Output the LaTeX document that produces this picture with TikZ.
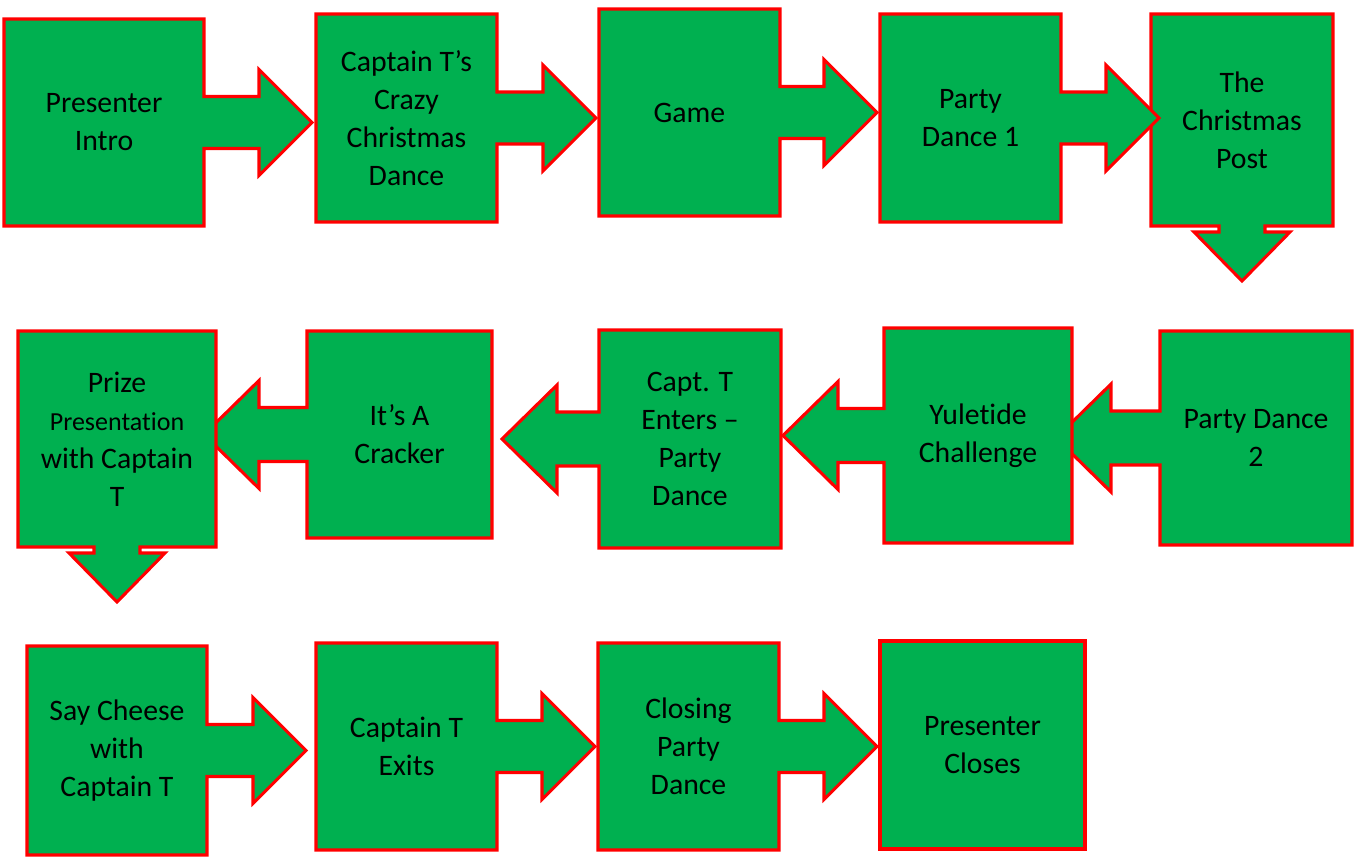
\documentclass[tikz,border=0pt]{standalone}
\usepackage{fontspec}
\setmainfont{Carlito}[Ligatures=NoCommon]
\usepackage{tikz}
\usetikzlibrary{calc,backgrounds}
\definecolor{boxgreen}{HTML}{00B050}
\definecolor{boxred}{HTML}{FF0000}
\tikzset{
  callout/.style={draw=boxred,fill=boxgreen,line width=2.3pt,line join=miter},
  sz/.style 2 args={minimum width=#1*0.75pt,minimum height=#2*0.75pt}
}
% box with a block arrow: right, left, down
\newcommand{\callright}[3]{%
  \coordinate (tip) at ($(#1.east -| #2.west)+(#3,0)$);
  \draw[callout] (#1.north west) -- (#1.north east) -- ($(#1.east)+(0,-26)$)
    -- ($(tip)+(-53,-26)$) -- ($(tip)+(-53,-53)$) -- (tip) -- ($(tip)+(-53,53)$)
    -- ($(tip)+(-53,26)$) -- ($(#1.east)+(0,26)$) -- (#1.south east)
    -- (#1.south west) -- cycle;}
\newcommand{\callleft}[3]{%
  \coordinate (tip) at ($(#1.west -| #2.east)+(#3,0)$);
  \draw[callout] (#1.north east) -- (#1.north west) -- ($(#1.west)+(0,-27)$)
    -- ($(tip)+(55,-27)$) -- ($(tip)+(55,-54)$) -- (tip) -- ($(tip)+(55,54)$)
    -- ($(tip)+(55,27)$) -- ($(#1.west)+(0,27)$) -- (#1.south west)
    -- (#1.south east) -- cycle;}
\newcommand{\calldown}[1]{%
  \draw[callout] (#1.north west) -- (#1.north east) -- (#1.south east)
    -- ($(#1.south)+(23,0)$) -- ($(#1.south)+(23,6)$) -- ($(#1.south)+(48,6)$)
    -- ($(#1.south)+(0,55)$) -- ($(#1.south)+(-48,6)$) -- ($(#1.south)+(-23,6)$)
    -- ($(#1.south)+(-23,0)$) -- (#1.south west) -- cycle;}

\begin{document}
\begin{tikzpicture}[x=0.75pt, y=-0.75pt,
    every node/.style={rectangle, align=center, inner sep=0pt, outer sep=0pt,
      font=\fontsize{22.3}{28.5}\selectfont}]
   \useasboundingbox (0,0) rectangle (1362,864);
   % first row
   \node[sz={200}{207}] (intro) at (104,122.5) {Presenter\\Intro};
   \node[sz={181}{208}] (crazy) at (406.5,118) {Captain T’s\\Crazy\\Christmas\\Dance};
   \node[sz={181}{207}] (game) at (689.5,112.5) {Game};
   \node[sz={181}{208}] (pd1) at (970.5,118) {Party\\Dance 1};
   \node[sz={182}{212}] (post) at (1242,120) {The\\Christmas\\Post};
   % second row, right to left
   \node[sz={192}{214}] (pd2) at (1256,438) {Party Dance\\2};
   \node[sz={188}{215}] (yule) at (978,435.5) {Yuletide\\Challenge};
   \node[sz={182}{218}] (capt) at (690,439) {Capt. T\\Enters –\\Party\\Dance};
   \node[sz={185}{207}] (cracker) at (399.5,434.5) {It’s A\\Cracker};
   \node[sz={198}{216}] (prize) at (117,439) {Prize\\{\fontsize{19.5}{28.5}\selectfont Presentation}\\with Captain\\T};
   % third row
   \node[sz={180}{209}] (cheese) at (117,750.5) {Say Cheese\\with\\Captain T};
   \node[sz={181}{207}] (exits) at (406.5,746.5) {Captain T\\Exits};
   \node[sz={181}{207}] (closing) at (688.5,746.5) {Closing\\Party\\Dance};
   \node[sz={205}{208}] (closes) at (982.5,745) {Presenter\\Closes};
   \begin{scope}[on background layer]
    \callright{intro}{crazy}{-4}
    \callright{crazy}{game}{-3}
    \callright{game}{pd1}{-3}
    \calldown{post}
    \callright{pd1}{post}{8}
    \callleft{pd2}{yule}{-16}
    \callleft{yule}{capt}{2}
    \callleft{capt}{cracker}{10}
    \callleft{cracker}{prize}{-12}
    \calldown{prize}
    \callright{cheese}{exits}{-10}
    \callright{exits}{closing}{-3}
    \callright{closing}{closes}{-3}
    \draw[callout] (closes.north west) rectangle (closes.south east);
   \end{scope}
\end{tikzpicture}
\end{document}
